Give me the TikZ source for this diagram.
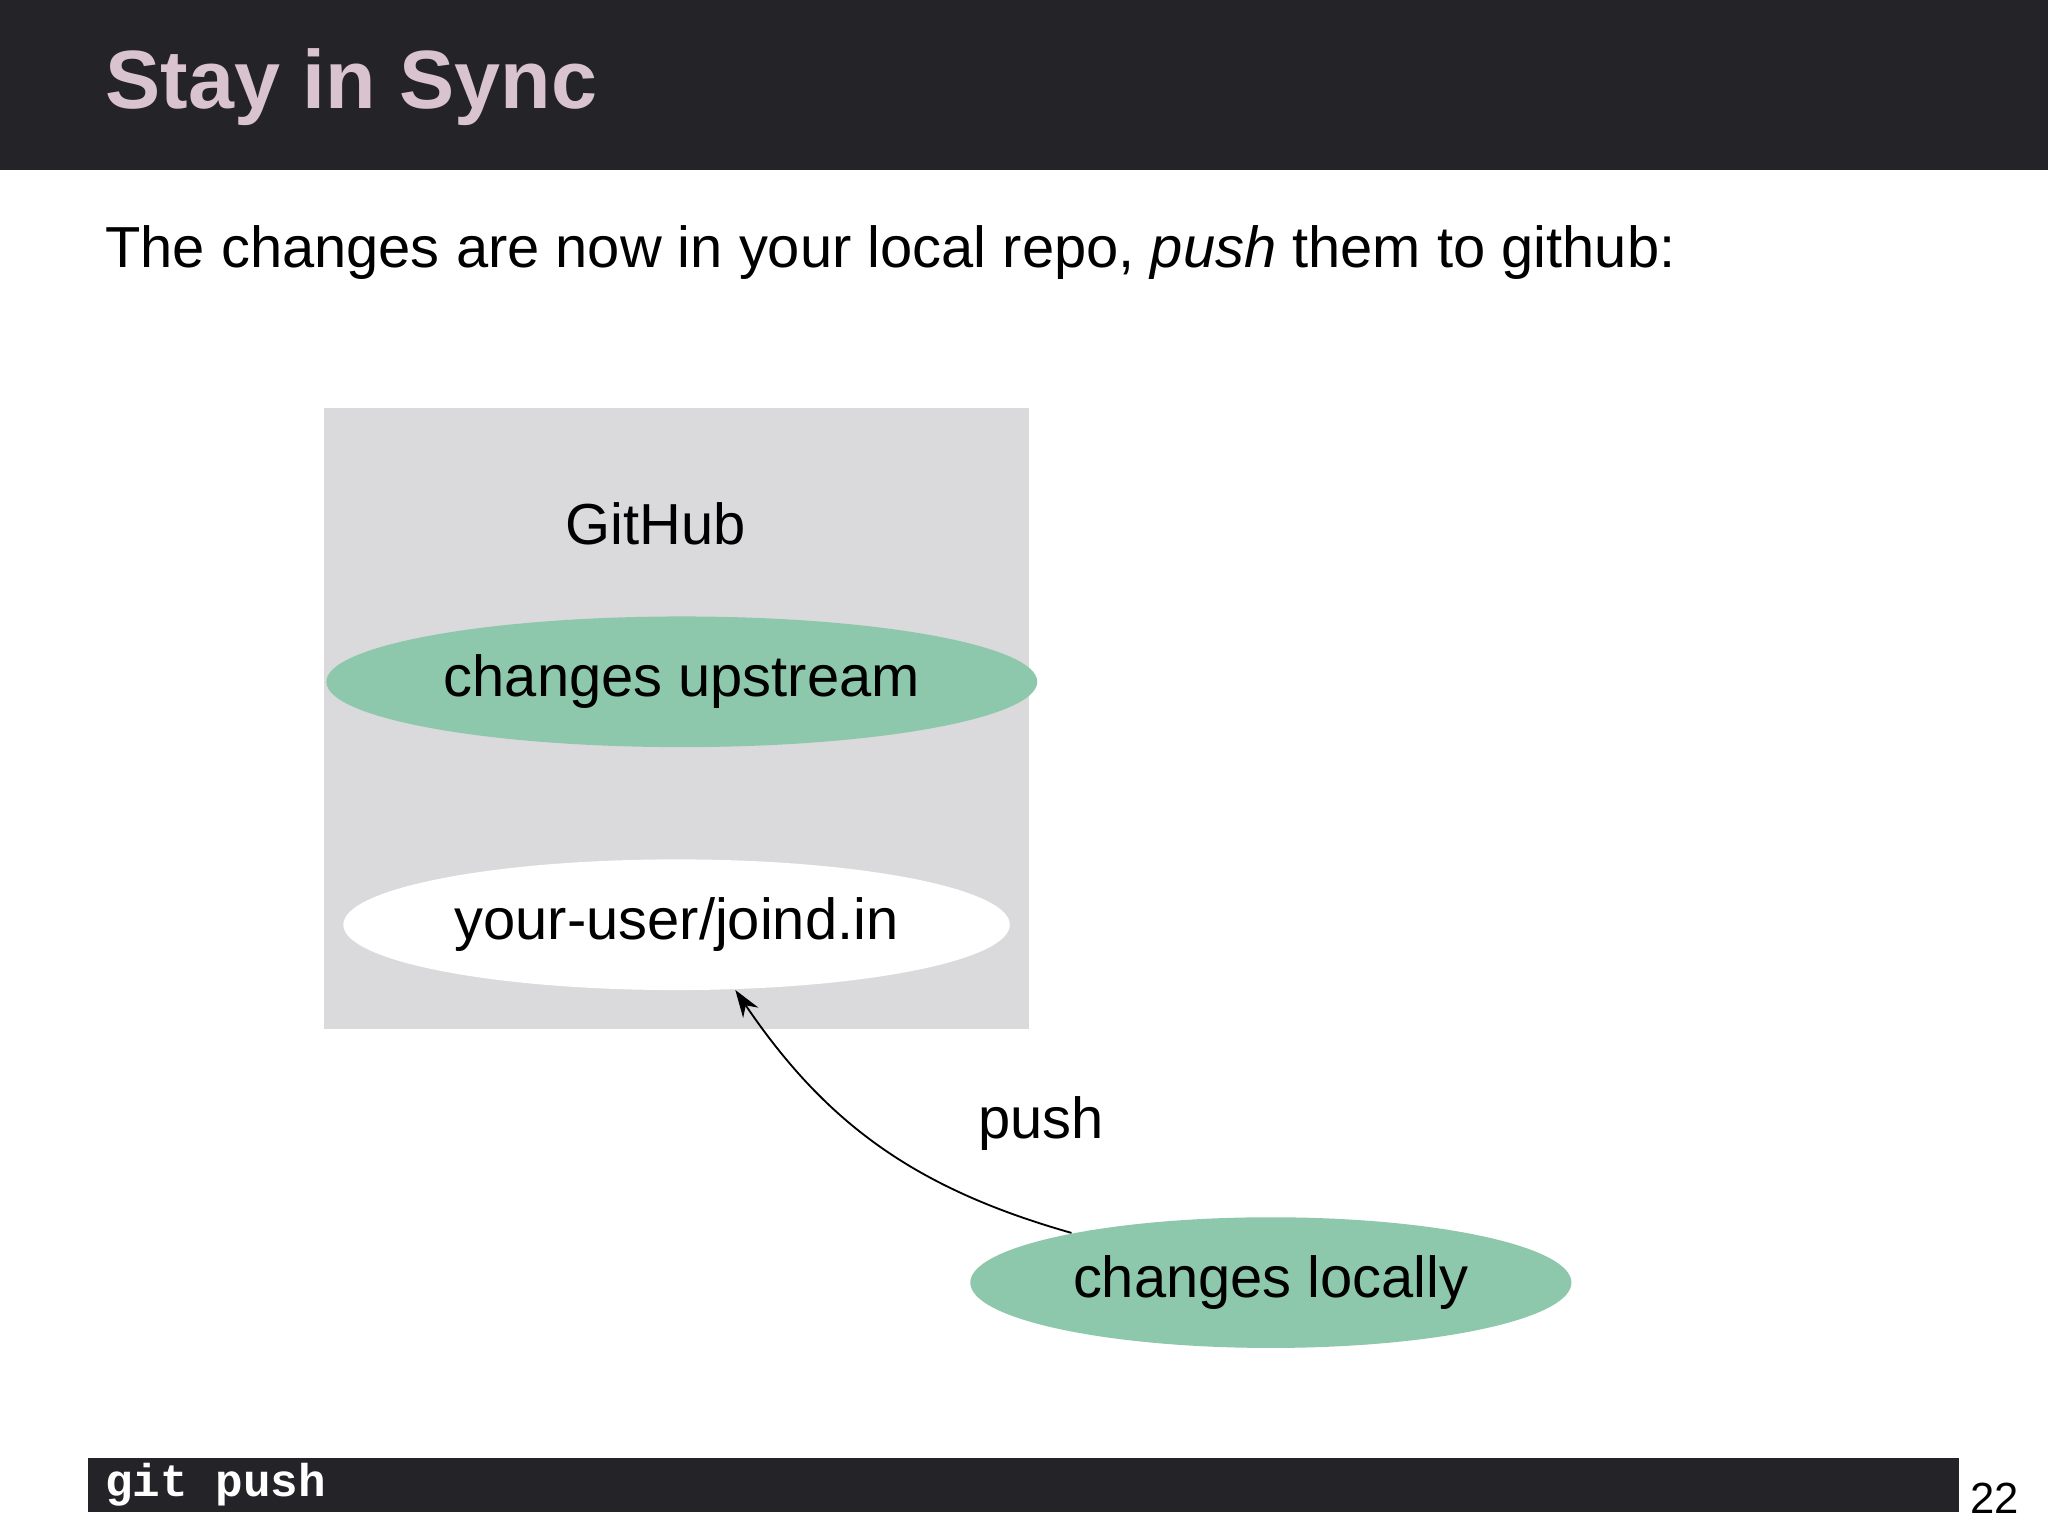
\documentclass[tikz,border=0pt]{standalone}
\usepackage{fontspec}
\setmainfont{Liberation Sans}
\setmonofont{Liberation Mono}
\usetikzlibrary{shapes.geometric,arrows.meta}
\definecolor{barcolor}{HTML}{232328}
\definecolor{titlecolor}{HTML}{D9C3CF}
\definecolor{boxgray}{HTML}{DAD9DC}
\definecolor{changegreen}{HTML}{8EC8AC}
\tikzset{
	blob/.style={ellipse, inner sep=0pt, minimum height=1cm, font=\fontsize{12.6}{15}\selectfont},
	plain/.style={inner sep=0pt, font=\fontsize{12.6}{15}\selectfont}
}
\begin{document}
\begin{tikzpicture}[x=0.01cm,y=-0.01cm]
			\useasboundingbox [fill=white] (0,0) rectangle (1568,1176);
			\fill [barcolor] (0,0) rectangle (1568,130);
			\node (title) [anchor=west, inner sep=0pt, text=titlecolor, font=\fontsize{18}{21}\selectfont\bfseries] at (80,67) {Stay in Sync};
			\node (intro) [plain, anchor=west] at (80,193) {The changes are now in your local repo, \textit{push} them to github:};
			\fill [boxgray] (248,312) rectangle (788,788);
			\node (github) [plain] at (502,401) {GitHub};
			\node (upstream) [blob, fill=changegreen, minimum width=5.44cm] at (522,522) {changes upstream};
			\node (fork) [blob, fill=white, minimum width=5.1cm] at (518,708) {your-user/joind.in};
			\node (local) [blob, fill=changegreen, minimum width=4.6cm] at (973,982) {changes locally};
			\draw [-{Stealth[length=6pt,width=4pt]}, thin] (local.166) to [bend left=20] (fork.-48);
			\node (pushlabel) [plain] at (797,860) {push};
			\fill [barcolor] (67,1116) rectangle (1500,1158);
			\node (cmd) [anchor=west, inner sep=0pt, text=white, font=\fontsize{10}{12}\selectfont\ttfamily\bfseries] at (80,1137) {git push};
			\node (page) [inner sep=0pt, font=\fontsize{9.5}{11}\selectfont] at (1527,1147) {22};
		\end{tikzpicture}
\end{document}
